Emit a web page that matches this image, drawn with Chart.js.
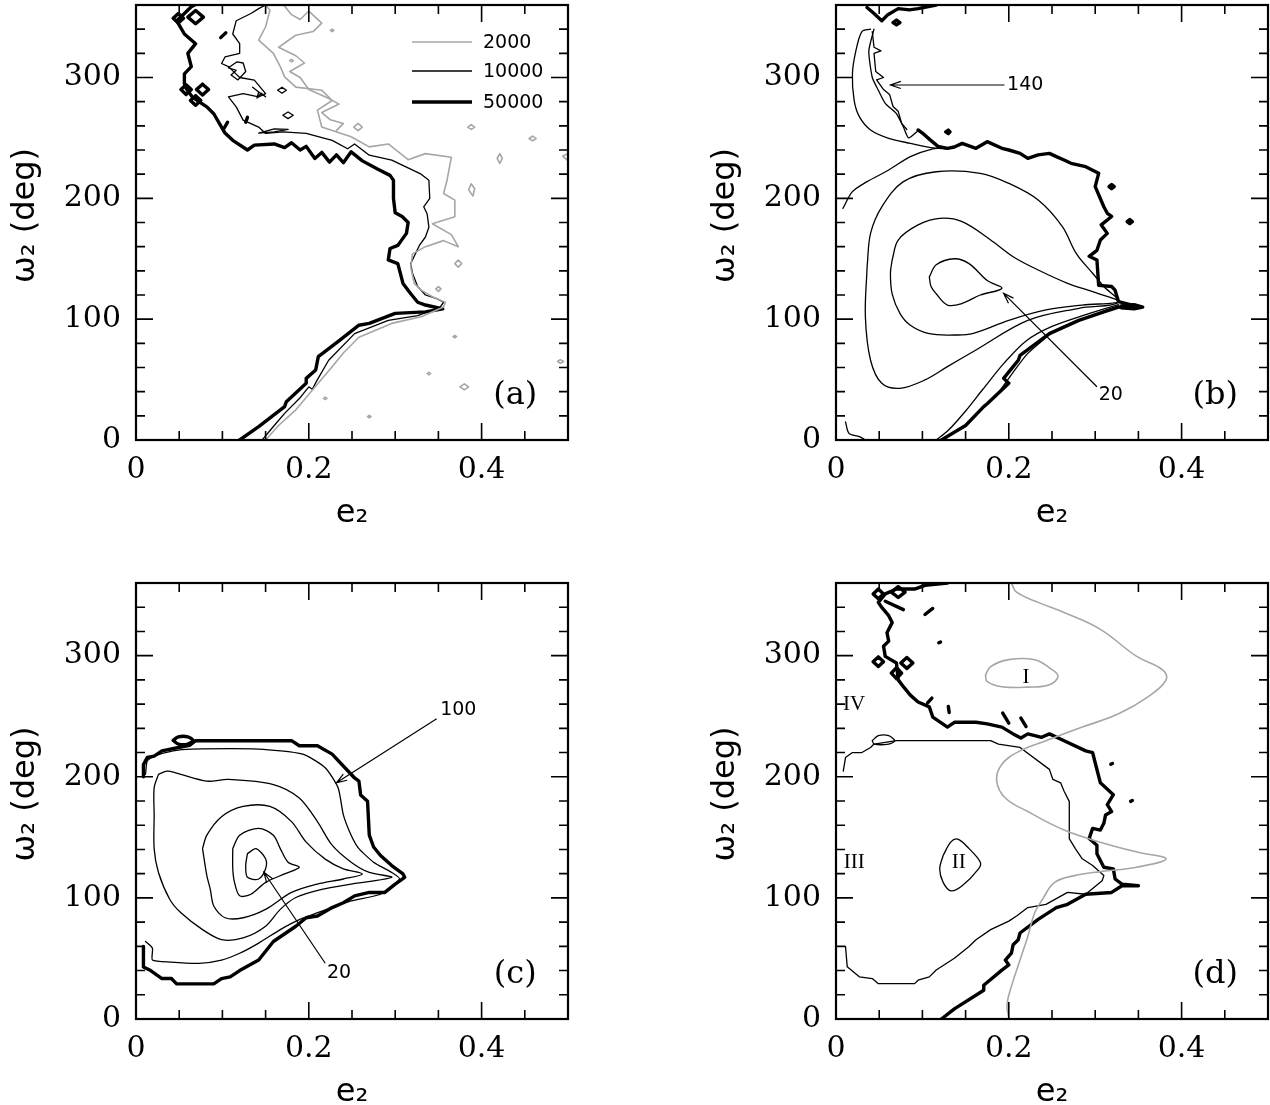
<!DOCTYPE html>
<html><head><meta charset="utf-8">
<script src="https://cdn.jsdelivr.net/npm/chart.js@4.4.0/dist/chart.umd.min.js"></script>
<style>
html,body{margin:0;padding:0;background:#fff;overflow:hidden;width:1270px;height:1105px}
canvas{position:absolute}
</style></head><body>
<canvas id="pa" width="570" height="545" style="left:0;top:0"></canvas>
<canvas id="pb" width="570" height="545" style="left:700px;top:0"></canvas>
<canvas id="pc" width="570" height="545" style="left:0;top:578px"></canvas>
<canvas id="pd" width="570" height="545" style="left:700px;top:578px"></canvas>
<script>
// ---- donnees : contours [e2, omega2] ----
// panneau (a)
const a50k = [[0.120,0],[0.142,11],[0.172,27.6],[0.174,31.7],[0.197,46.9],[0.197,51],[0.208,58],[0.211,69],[0.236,82.7],[0.258,95],[0.270,96.5],[0.300,104.8],[0.335,106],[0.355,108.5],[0.335,111.7],[0.326,114],[0.318,121],[0.309,129.6],[0.305,140.6],[0.303,146],[0.292,149],[0.294,158.5],[0.303,161],[0.307,165],[0.313,171],[0.315,180],[0.308,185],[0.300,188],[0.298,200],[0.298,215],[0.294,219],[0.280,224],[0.262,231],[0.249,238.5],[0.240,229.5],[0.232,236],[0.224,230],[0.215,238],[0.207,233],[0.197,243],[0.190,240],[0.180,246],[0.172,242],[0.160,245],[0.137,244],[0.129,240],[0.112,248],[0.103,254],[0.099,259],[0.090,270],[0.082,275.7],[0.075,279],[0.065,284],[0.058,291],[0.056,295],[0.056,303],[0.064,309],[0.060,320],[0.069,328],[0.056,336],[0.047,347],[0.056,353],[0.064,358.6],[0.068,360]];
const a50kBits = [
  [[0.043,349],[0.049,353],[0.055,349],[0.049,345],[0.043,349]],
  [[0.060,350],[0.069,355.5],[0.078,350],[0.069,344.5],[0.060,350]],
  [[0.052,290],[0.058,294],[0.064,290],[0.058,286],[0.052,290]],
  [[0.070,290],[0.077,294.5],[0.084,290],[0.077,285.5],[0.070,290]],
  [[0.063,281],[0.069,285],[0.075,281],[0.069,277],[0.063,281]],
  [[0.102,258],[0.106,263]],[[0.127,263],[0.129,267]],[[0.098,333],[0.104,337]]
];
const a10k = [[0.146,0],[0.160,12],[0.172,22],[0.190,35],[0.200,44],[0.204,42],[0.210,50],[0.223,66],[0.253,88],[0.292,99],[0.326,103],[0.352,110],[0.356,114],[0.348,117],[0.335,120],[0.326,127],[0.320,138],[0.318,146],[0.322,152],[0.328,161],[0.335,168],[0.339,176],[0.337,187],[0.333,193],[0.340,200],[0.339,215],[0.330,220],[0.296,231.6],[0.270,235.7],[0.253,245],[0.245,241],[0.227,248],[0.197,253.7],[0.170,255],[0.150,253.7],[0.142,259],[0.124,264.7],[0.116,275.7],[0.107,284],[0.124,286.7],[0.142,284],[0.150,286.7],[0.137,297.8],[0.120,300],[0.107,309],[0.099,311.6],[0.103,317],[0.120,320],[0.120,328],[0.112,336],[0.116,347],[0.133,353],[0.142,357],[0.150,360]];
const a10kBits = [
  [[0.107,308],[0.117,313],[0.124,312],[0.127,305],[0.118,298],[0.110,302],[0.116,306],[0.107,308]],
  [[0.164,289.5],[0.169,292],[0.174,289.5],[0.169,287],[0.164,289.5]],
  [[0.170,268.8],[0.176,271.5],[0.182,268.8],[0.176,266],[0.170,268.8]],
  [[0.142,254],[0.160,257.5],[0.176,257],[0.160,255],[0.142,254]],
  [[0.135,292],[0.142,288],[0.140,283],[0.145,287],[0.150,284],[0.142,288]]
];
const a2k = [[0.150,0],[0.165,12],[0.185,25],[0.205,42],[0.227,60.6],[0.240,72],[0.258,85],[0.296,96.5],[0.330,102],[0.356,110],[0.358,114],[0.343,118.6],[0.330,124],[0.322,129.6],[0.318,143],[0.320,154],[0.335,160],[0.356,165],[0.373,160],[0.365,170],[0.343,179],[0.369,184.7],[0.369,198.5],[0.356,204],[0.360,215],[0.365,234],[0.335,237],[0.315,232],[0.292,245],[0.270,242.6],[0.249,251],[0.215,259],[0.210,273],[0.227,281],[0.215,289.5],[0.185,292],[0.172,300.5],[0.167,309],[0.159,320],[0.142,331],[0.150,342],[0.155,355.6],[0.150,360]];
const a2kTop = [[0.171,360],[0.180,352],[0.190,348],[0.200,355],[0.215,345],[0.205,338],[0.185,335],[0.175,330],[0.165,325],[0.185,318],[0.195,312],[0.178,305],[0.190,300],[0.200,290],[0.222,283],[0.235,278],[0.215,271],[0.225,265],[0.240,262],[0.232,256]];
const a2kBits = [
  [[0.384,259],[0.388,261],[0.392,259],[0.388,257],[0.384,259]],
  [[0.455,249.5],[0.459,251.5],[0.463,249.5],[0.459,247.5],[0.455,249.5]],
  [[0.418,233],[0.421,237],[0.424,233],[0.421,229],[0.418,233]],
  [[0.385,207],[0.388,212],[0.392,208],[0.390,202],[0.385,207]],
  [[0.369,146],[0.373,149],[0.377,146],[0.373,143],[0.369,146]],
  [[0.347,125],[0.350,127],[0.353,125],[0.350,123],[0.347,125]],
  [[0.375,44],[0.380,46.5],[0.385,44],[0.380,41.5],[0.375,44]],
  [[0.488,65],[0.491,66.5],[0.495,65],[0.491,63.5],[0.488,65]],
  [[0.252,259],[0.257,262],[0.262,259],[0.257,256],[0.252,259]],
  [[0.500,237],[0.494,235],[0.500,231]],
  [[0.217,34.5],[0.219,35.5],[0.221,34.5],[0.219,33.5],[0.217,34.5]],
  [[0.268,19.3],[0.270,20.3],[0.272,19.3],[0.270,18.3],[0.268,19.3]],
  [[0.337,55],[0.339,56],[0.341,55],[0.339,54],[0.337,55]],
  [[0.367,85.5],[0.369,86.5],[0.371,85.5],[0.369,84.5],[0.367,85.5]],
  [[0.225,339],[0.227,340],[0.229,339],[0.227,338],[0.225,339]],
  [[0.178,314],[0.180,315],[0.182,314],[0.180,313],[0.178,314]]
];
// panneau (b)
const b50k = [[0.122,0],[0.150,12],[0.171,27.6],[0.175,30],[0.200,47],[0.194,51],[0.205,60.7],[0.211,66],[0.213,70],[0.247,88],[0.281,99],[0.310,106],[0.327,110],[0.352,110],[0.327,114.5],[0.323,124],[0.319,127],[0.304,128],[0.302,149],[0.293,152],[0.302,157],[0.306,165.5],[0.314,171],[0.307,178],[0.319,185],[0.314,187.6],[0.310,193],[0.300,209.7],[0.304,220.7],[0.289,226.2],[0.272,229],[0.264,231.7],[0.255,234.5],[0.247,237.2],[0.234,236],[0.222,233.1],[0.213,237.2],[0.200,240],[0.192,241.4],[0.175,246.9],[0.162,241.4],[0.146,245.5],[0.137,242.5],[0.129,241.4],[0.118,243],[0.108,249],[0.100,254],[0.095,256.6]];
const b50kTop = [[0.036,358],[0.044,353],[0.053,347],[0.060,352],[0.072,357],[0.085,356],[0.095,357],[0.116,360]];
const b50kBits = [
  [[0.066,345.5],[0.070,347.5],[0.074,345.5],[0.070,343.5],[0.066,345.5]],
  [[0.127,255],[0.130,256.5],[0.132,255],[0.130,253.5],[0.127,255]],
  [[0.316,209.7],[0.319,211.5],[0.322,209.7],[0.319,208],[0.316,209.7]],
  [[0.337,180.7],[0.340,182.5],[0.343,180.7],[0.340,179],[0.337,180.7]],
  [[0.330,111],[0.345,112],[0.355,110],[0.345,108.5],[0.330,109.5]]
];
const bUp1 = [[0.040,340],[0.030,338],[0.023,322],[0.019,303],[0.021,281],[0.027,267.6],[0.040,256.6],[0.061,249.7],[0.086,245.5],[0.110,242],[0.129,241]];
const bUp2 = [[0.044,340],[0.038,322],[0.042,300],[0.049,289.5],[0.057,278.6],[0.070,270],[0.078,259],[0.084,250],[0.095,256]];
const bUp3 = [[0.042,338],[0.044,325],[0.052,322],[0.044,320],[0.046,305],[0.055,300],[0.047,298],[0.055,290],[0.062,286],[0.066,276],[0.072,272],[0.076,262],[0.082,257]];
const bCorner = [[0.011,15],[0.015,5.5],[0.027,2.8],[0.034,0]];
const b20 = [[0.108,135],[0.116,145],[0.137,150],[0.154,146],[0.175,132],[0.192,125.5],[0.167,120],[0.146,113],[0.129,111.7],[0.116,121],[0.110,127],[0.108,135]];
const bC2 = [[0.065,149],[0.072,165.5],[0.095,178],[0.120,183.4],[0.146,180.7],[0.179,165.5],[0.205,151.7],[0.234,140.7],[0.268,129.7],[0.297,122.8],[0.327,114.5],[0.285,111.7],[0.243,107.6],[0.200,99],[0.158,88],[0.137,86.9],[0.108,88],[0.086,95],[0.074,104.8],[0.065,121],[0.063,138],[0.065,149]];
const bC3 = [[0.036,143.4],[0.040,171],[0.053,193],[0.078,213.8],[0.116,222],[0.167,220.7],[0.200,212.4],[0.234,198.6],[0.262,176.6],[0.278,154.5],[0.297,138],[0.310,127],[0.327,114],[0.281,109],[0.222,99],[0.162,74.5],[0.129,60.7],[0.103,49.7],[0.074,42.8],[0.053,46.9],[0.040,66],[0.034,102],[0.036,143.4]];
const bC4up = [[0.008,191.7],[0.019,205.5],[0.036,213.8],[0.061,223.4],[0.086,234.5],[0.112,241],[0.129,242]];
const bC4low = [[0.327,112],[0.290,104],[0.250,94],[0.220,82],[0.195,64],[0.170,42],[0.150,24],[0.130,8],[0.116,0]];
const bC5 = [[0.327,111],[0.297,103.4],[0.255,91],[0.222,71.7],[0.205,56],[0.190,41],[0.185,36]];
// panneau (c)
const c50k = [[0.0086,60],[0.0086,43],[0.017,40],[0.030,33.4],[0.041,33.4],[0.047,29],[0.090,29],[0.099,33.4],[0.109,34.8],[0.120,40],[0.142,48.7],[0.159,64],[0.185,76.6],[0.197,83.6],[0.210,85],[0.227,92],[0.240,96],[0.253,101.7],[0.270,104.5],[0.288,104.5],[0.300,111.4],[0.311,117],[0.309,119.8],[0.296,126.7],[0.283,135],[0.275,142],[0.270,151.8],[0.268,179.7],[0.260,185],[0.258,196.4],[0.253,199],[0.227,218.7],[0.210,225.6],[0.189,225.6],[0.180,229.8],[0.069,229.8],[0.062,226],[0.030,221.4],[0.021,217],[0.013,215.9],[0.0086,210],[0.0086,200]];
const cOval = [[0.043,230],[0.049,233],[0.060,233],[0.066,230],[0.060,227],[0.049,227],[0.043,230]];
const c100 = [[0.011,64],[0.019,58.5],[0.019,48.7],[0.040,47],[0.073,46],[0.099,48.7],[0.120,54.3],[0.142,62.7],[0.167,73.8],[0.189,82],[0.215,89],[0.249,97.5],[0.283,103],[0.305,115.6],[0.296,121],[0.275,129.5],[0.258,140.7],[0.249,151.8],[0.240,168.5],[0.234,190.8],[0.219,207.5],[0.193,218.7],[0.142,222.8],[0.064,222.8],[0.043,221.4],[0.021,217],[0.013,213],[0.011,202]];
const cC3 = [[0.026,202],[0.036,204.7],[0.047,203],[0.082,196.4],[0.107,197.8],[0.159,193.6],[0.189,182.5],[0.210,163],[0.227,143.5],[0.249,129.5],[0.270,121],[0.296,117],[0.249,111.4],[0.215,107],[0.185,100.3],[0.167,90.5],[0.150,76.6],[0.124,66.9],[0.099,65.5],[0.077,73.8],[0.052,87.7],[0.039,98.9],[0.026,121],[0.021,140.7],[0.021,168.5],[0.021,190.8],[0.026,202]];
const cC4 = [[0.077,140.7],[0.082,151.8],[0.099,167],[0.124,175.5],[0.155,175.5],[0.180,163],[0.197,146],[0.219,132],[0.240,124],[0.262,119.8],[0.240,115.6],[0.210,111.4],[0.180,104.5],[0.150,90.5],[0.124,83.6],[0.103,83.6],[0.090,93.3],[0.086,107],[0.082,118.4],[0.077,140.7]];
const cC5 = [[0.112,140.7],[0.120,151.8],[0.142,157.4],[0.159,151.8],[0.167,140.7],[0.176,129.5],[0.189,125.3],[0.172,119.8],[0.150,112.8],[0.133,103],[0.120,101.7],[0.114,112.8],[0.112,124],[0.112,140.7]];
const c20 = [[0.129,136.5],[0.139,140.7],[0.150,132.3],[0.150,124],[0.142,115.6],[0.129,117],[0.127,126.7],[0.129,136.5]];
// panneau (d)
const d50k = [[0.122,0],[0.137,8.4],[0.171,23.7],[0.171,27.9],[0.192,40.4],[0.200,44.6],[0.196,48.7],[0.203,54.3],[0.205,61.3],[0.211,65.5],[0.213,71],[0.234,82.2],[0.255,92],[0.268,94.7],[0.289,103],[0.319,104.5],[0.331,110],[0.350,110],[0.331,111.4],[0.323,115.6],[0.321,124],[0.310,125.3],[0.302,136.5],[0.302,143.5],[0.293,149],[0.297,157.4],[0.306,156],[0.310,161.6],[0.312,168.5],[0.319,171.3],[0.314,177],[0.321,185.2],[0.306,195],[0.302,206],[0.297,220],[0.289,221.4],[0.264,229.8],[0.247,235.4],[0.238,232.6],[0.222,235.4],[0.214,232],[0.205,235.4],[0.192,241],[0.175,243.7],[0.162,245],[0.137,245],[0.129,241],[0.112,249.3],[0.108,257.7],[0.095,261.8],[0.086,267.4],[0.078,274.4],[0.072,280],[0.070,293.9],[0.057,299.4],[0.055,307.8],[0.061,312],[0.059,319],[0.065,327.3],[0.061,333],[0.053,339.8],[0.049,344],[0.057,351],[0.070,355],[0.091,355],[0.103,358],[0.129,360]];
const d50kBits = [
  [[0.043,351],[0.049,355],[0.055,351],[0.049,347],[0.043,351]],
  [[0.064,352.5],[0.072,357],[0.080,352.5],[0.072,348],[0.064,352.5]],
  [[0.043,295],[0.049,299],[0.055,295],[0.049,291],[0.043,295]],
  [[0.075,294],[0.082,298.5],[0.089,294],[0.082,289.5],[0.075,294]],
  [[0.064,285.6],[0.070,290],[0.076,285.6],[0.070,281],[0.064,285.6]],
  [[0.057,345],[0.078,338]],[[0.103,334],[0.112,339]],[[0.130,258],[0.131,253]],[[0.106,261],[0.111,265]],
  [[0.193,252.6],[0.200,244.3]],[[0.214,248.5],[0.220,241.5]],
  [[0.318,210.3],[0.320,211]],[[0.341,179.7],[0.343,180.4]],[[0.119,310.6],[0.121,311.3]]
];
const d10k = [[0.0084,204.7],[0.011,215.9],[0.019,220],[0.030,220],[0.040,224.2],[0.044,227],[0.070,229.8],[0.179,229.8],[0.188,227],[0.213,224.2],[0.247,206.1],[0.251,197.8],[0.260,195],[0.264,188],[0.270,179.7],[0.270,149],[0.277,140.7],[0.285,132.3],[0.297,126.7],[0.310,118.4],[0.308,114.2],[0.289,103],[0.268,104.5],[0.243,94.7],[0.222,92],[0.209,85],[0.200,80.8],[0.179,73.8],[0.162,65.5],[0.154,59.9],[0.137,50.1],[0.116,40.4],[0.108,34.8],[0.095,32],[0.091,29.2],[0.049,29.2],[0.042,33.4],[0.027,34.8],[0.013,43.2],[0.011,59.9]];
const dOval = [[0.042,229.8],[0.049,234],[0.061,234],[0.068,229.8],[0.061,227],[0.044,227],[0.042,229.8]];
const dII = [[0.124,135],[0.133,146.2],[0.141,148.5],[0.154,140.7],[0.167,129.5],[0.165,124],[0.146,110],[0.133,105.8],[0.124,112.8],[0.120,124],[0.124,135]];
const dGrey = [[0.200,0],[0.198,12.5],[0.204,29.2],[0.213,48.7],[0.222,68.2],[0.230,87.7],[0.240,100],[0.253,112.8],[0.276,118.4],[0.306,121.7],[0.348,125.3],[0.382,132.3],[0.348,137.9],[0.306,146],[0.264,156],[0.222,171.3],[0.196,182.5],[0.186,196.4],[0.192,210.3],[0.213,221.4],[0.243,229.8],[0.285,241],[0.327,252],[0.361,266],[0.382,280],[0.378,288.3],[0.348,299.4],[0.306,321.7],[0.264,335.6],[0.234,344],[0.209,352.4],[0.203,360]];
const dI = [[0.173,284],[0.179,291],[0.200,296.7],[0.230,296.7],[0.247,290],[0.257,283],[0.247,276],[0.222,274],[0.192,274.4],[0.175,278.6],[0.173,284]];

// legende, etiquettes et fleches
const legendA = [['2000', 'grey'], ['10000', 'thin'], ['50000', 'thick']];
const arrowsB = [[0.195,293.8, 0.063,293.8], [0.302,44.1, 0.194,121.4]];
const textsB = [['140', 0.198,293.5], ['20', 0.304,37]];
const arrowsC = [[0.348,247.9, 0.232,195], [0.219,46, 0.148,121.2]];
const textsC = [['100', 0.352,255], ['20', 0.221,37.6]];
const romanD = [['I', 0.220,281.6], ['II', 0.142,129.6], ['III', 0.021,129.6], ['IV', 0.021,259.3]];

// styles
const STY = {
  thick: {c: '#000', w: 3.4},
  thin:  {c: '#000', w: 1.3},
  grey:  {c: '#a6a6a6', w: 1.6}
};
function L(pts, s, t) {
  return {data: pts, showLine: true, borderColor: STY[s].c, borderWidth: STY[s].w,
    pointRadius: 0, tension: t || 0, borderJoinStyle: 'round', borderCapStyle: 'round', fill: false};
}
const majE = v => Math.abs(v*5 - Math.round(v*5)) < 1e-6;
function xLabel(v) {
  const k = Math.round(v/0.2);
  if (Math.abs(v - k*0.2) < 1e-6 && k <= 2) return k === 0 ? '0' : (k*0.2).toFixed(1);
  return '';
}
const yLabel = v => (v % 100 === 0 && v < 360) ? String(v) : '';

const DECO = {
  pa: {label: '(a)', legend: true},
  pb: {label: '(b)', arrows: arrowsB, texts: textsB},
  pc: {label: '(c)', arrows: arrowsC, texts: textsC},
  pd: {label: '(d)', roman: romanD}
};

const deco = {
  id: 'deco',
  afterDatasetsDraw(chart) {
    const o = DECO[chart.canvas.id];
    const {ctx, chartArea: a} = chart, xs = chart.scales.x, ys = chart.scales.y;
    const P = (e, w) => [xs.getPixelForValue(e), ys.getPixelForValue(w)];
    ctx.save();
    ctx.strokeStyle = '#000'; ctx.fillStyle = '#000';
    // graduations vers l'interieur, sur les 4 cotes
    ctx.lineWidth = 1.6;
    ctx.beginPath();
    xs.ticks.forEach(t => {
      const px = xs.getPixelForValue(t.value), len = majE(t.value) ? 17 : 9;
      ctx.moveTo(px, a.bottom); ctx.lineTo(px, a.bottom - len);
      ctx.moveTo(px, a.top); ctx.lineTo(px, a.top + len);
    });
    ys.ticks.forEach(t => {
      const py = ys.getPixelForValue(t.value), len = t.value % 100 === 0 ? 17 : 9;
      ctx.moveTo(a.left, py); ctx.lineTo(a.left + len, py);
      ctx.moveTo(a.right, py); ctx.lineTo(a.right - len, py);
    });
    ctx.stroke();
    ctx.lineWidth = 2.2;
    ctx.strokeRect(a.left, a.top, a.right - a.left, a.bottom - a.top);
    // titres des axes
    ctx.font = '32px "DejaVu Sans"'; ctx.textAlign = 'center'; ctx.textBaseline = 'alphabetic';
    ctx.fillText('e\u2082', (a.left + a.right)/2, a.bottom + 82);
    ctx.save();
    ctx.translate(a.left - 110, (a.top + a.bottom)/2 - 7);
    ctx.rotate(-Math.PI/2);
    ctx.textBaseline = 'middle';
    ctx.fillText('\u03c9\u2082 (deg)', 0, 0);
    ctx.restore();
    // lettre du panneau
    ctx.font = '32px "DejaVu Serif"'; ctx.textBaseline = 'middle';
    const lp = P(0.439, 37);
    ctx.fillText(o.label, lp[0], lp[1]);
    // legende (a)
    if (o.legend) {
      ctx.font = '19px "DejaVu Sans"'; ctx.textAlign = 'left';
      legendA.forEach((it, i) => {
        const y = a.top + [37, 66, 97][i], s = STY[it[1]];
        ctx.strokeStyle = s.c; ctx.lineWidth = s.w;
        ctx.beginPath(); ctx.moveTo(a.left + 276, y); ctx.lineTo(a.left + 336, y); ctx.stroke();
        ctx.fillText(it[0], a.left + 347, y + 1);
      });
    }
    // fleches
    ctx.strokeStyle = '#000'; ctx.lineWidth = 1.2;
    (o.arrows || []).forEach(r => {
      const p0 = P(r[0], r[1]), p1 = P(r[2], r[3]);
      const ang = Math.atan2(p1[1] - p0[1], p1[0] - p0[0]), h = 11;
      ctx.beginPath();
      ctx.moveTo(p0[0], p0[1]); ctx.lineTo(p1[0], p1[1]);
      ctx.moveTo(p1[0] - h*Math.cos(ang - 0.33), p1[1] - h*Math.sin(ang - 0.33));
      ctx.lineTo(p1[0], p1[1]);
      ctx.lineTo(p1[0] - h*Math.cos(ang + 0.33), p1[1] - h*Math.sin(ang + 0.33));
      ctx.stroke();
    });
    ctx.font = '19px "DejaVu Sans"'; ctx.textAlign = 'left'; ctx.textBaseline = 'middle';
    (o.texts || []).forEach(t => { const p = P(t[1], t[2]); ctx.fillText(t[0], p[0], p[1]); });
    ctx.font = '21px "Liberation Serif"'; ctx.textAlign = 'center';
    (o.roman || []).forEach(t => { const p = P(t[1], t[2]); ctx.fillText(t[0], p[0], p[1]); });
    ctx.restore();
  }
};

function panel(id, sets, xh) {
  const tickFont = {family: 'DejaVu Serif', size: 30};
  return new Chart(document.getElementById(id), {
    type: 'scatter',
    data: {datasets: sets},
    options: {
      animation: false, responsive: false, devicePixelRatio: 1,
      layout: {padding: {left: 6, top: 5, right: 2, bottom: 5}},
      plugins: {legend: {display: false}, tooltip: {enabled: false}},
      scales: {
        x: {type: 'linear', min: 0, max: 0.5,
            afterFit: s => { s.height = xh; s.paddingLeft = 0; s.paddingRight = 0; },
            grid: {display: false, drawTicks: false}, border: {display: false},
            ticks: {stepSize: 0.05, autoSkip: false, maxRotation: 0, padding: 12, color: '#000', font: tickFont, callback: xLabel}},
        y: {type: 'linear', min: 0, max: 360,
            afterFit: s => { s.width = 130; s.paddingTop = 0; s.paddingBottom = 0; },
            grid: {display: false, drawTicks: false}, border: {display: false},
            ticks: {stepSize: 20, autoSkip: false, padding: 15, color: '#000', font: tickFont, callback: yLabel}}
      }
    },
    plugins: [deco]
  });
}

panel('pa', [
  ...a2kBits.map(p => L(p, 'grey')), L(a2kTop, 'grey'), L(a2k, 'grey'),
  ...a10kBits.map(p => L(p, 'thin')), L(a10k, 'thin'),
  ...a50kBits.map(p => L(p, 'thick')), L(a50k, 'thick')
], 100);

panel('pb', [
  L(bCorner, 'thin', 0.3), L(b20, 'thin', 0.35), L(bC2, 'thin', 0.35), L(bC3, 'thin', 0.35),
  L(bC4up, 'thin', 0.3), L(bC4low, 'thin', 0.3), L(bC5, 'thin', 0.2),
  L(bUp1, 'thin', 0.3), L(bUp2, 'thin', 0.2), L(bUp3, 'thin'),
  ...b50kBits.map(p => L(p, 'thick')), L(b50kTop, 'thick'), L(b50k, 'thick')
], 100);

panel('pc', [
  L(c20, 'thin', 0.3), L(cC5, 'thin', 0.3), L(cC4, 'thin', 0.3), L(cC3, 'thin', 0.3), L(c100, 'thin', 0.2),
  L(cOval, 'thick', 0.3), L(c50k, 'thick')
], 99);

panel('pd', [
  L(dGrey, 'grey', 0.4), L(dI, 'grey', 0.4),
  L(dII, 'thin', 0.35), L(dOval, 'thin', 0.3), L(d10k, 'thin'),
  ...d50kBits.map(p => L(p, 'thick')), L(d50k, 'thick')
], 99);
</script>
</body></html>
